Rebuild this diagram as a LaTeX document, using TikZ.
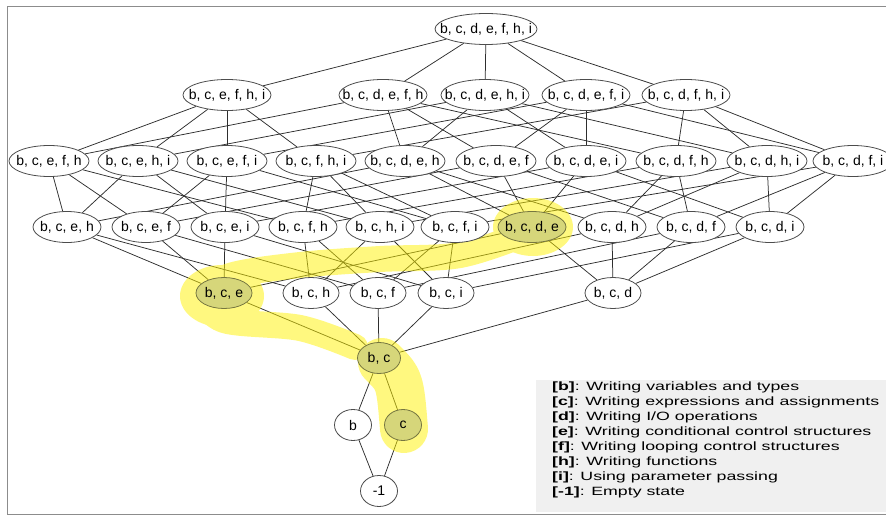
\documentclass[tikz,border=0pt]{standalone}
\usepackage{fontspec}
\setmainfont{Liberation Sans}
\newfontfamily\keyfont[FakeStretch=1.48]{Liberation Sans}
\usetikzlibrary{shapes.geometric}
\pgfdeclarelayer{background}
\pgfdeclarelayer{marker}
\pgfsetlayers{background,marker,main}
\definecolor{marked}{RGB}{214,214,122}
\definecolor{markedline}{RGB}{118,118,64}
\definecolor{keygray}{RGB}{240,240,240}
\definecolor{framegray}{RGB}{140,140,140}

\begin{document}
\begin{tikzpicture}[x=1pt, y=-1pt,
    state/.style ={ellipse, draw=black!70, line width=0.8pt, fill=white,
      inner xsep=-30pt, inner ysep=0pt, minimum height=31pt,
      minimum width=#1, font=\fontsize{14}{16}\selectfont},
    state/.default=37pt,
    picked/.style ={fill=marked, draw=markedline},
    link/.style ={black!82, line width=0.75pt},
    band/.style ={yellow, line width=26pt, line cap=round, line join=round},
    key/.style ={anchor=north west, align=left, inner sep=0pt,
      font=\keyfont\fontsize{12}{14.9}\selectfont}]
   \useasboundingbox (0,0) rectangle (886,516);
   \draw[framegray, line width=1.6pt] (886,6.5) -- (7.5,6.5) -- (7.5,514.5) -- (886,514.5);
   % lattice of states
   \node[state=102pt] (bcdefhi) at (486,29) {b, c, d, e, f, h, i};
   \node[state=88pt] (bcefhi) at (227,95) {b, c, e, f, h, i};
   \node[state=88pt] (bcdefh) at (383,95) {b, c, d, e, f, h};
   \node[state=88pt] (bcdehi) at (485,95) {b, c, d, e, h, i};
   \node[state=88pt] (bcdefi) at (586,95) {b, c, d, e, f, i};
   \node[state=88pt] (bcdfhi) at (686,95) {b, c, d, f, h, i};
   \node[state=80pt] (bcefh) at (49,161) {b, c, e, f, h};
   \node[state=80pt] (bcehi) at (138,161) {b, c, e, h, i};
   \node[state=80pt] (bcefi) at (227,161) {b, c, e, f, i};
   \node[state=80pt] (bcfhi) at (316,161) {b, c, f, h, i};
   \node[state=80pt] (bcdeh) at (405,161) {b, c, d, e, h};
   \node[state=80pt] (bcdef) at (496,161) {b, c, d, e, f};
   \node[state=80pt] (bcdei) at (586,161) {b, c, d, e, i};
   \node[state=80pt] (bcdfh) at (676,161) {b, c, d, f, h};
   \node[state=80pt] (bcdhi) at (767,161) {b, c, d, h, i};
   \node[state=80pt] (bcdfi) at (853,161) {b, c, d, f, i};
   \node[state=68pt] (bceh) at (67,227) {b, c, e, h};
   \node[state=68pt] (bcef) at (146,227) {b, c, e, f};
   \node[state=68pt] (bcei) at (225,227) {b, c, e, i};
   \node[state=68pt] (bcfh) at (303,227) {b, c, f, h};
   \node[state=68pt] (bchi) at (380,227) {b, c, h, i};
   \node[state=68pt] (bcfi) at (455,227) {b, c, f, i};
   \node[state=68pt, picked] (bcde) at (532,227) {b, c, d, e};
   \node[state=68pt] (bcdh) at (612,227) {b, c, d, h};
   \node[state=68pt] (bcdf) at (691,227) {b, c, d, f};
   \node[state=68pt] (bcdi) at (770,227) {b, c, d, i};
   \node[state=56pt, picked] (bce) at (224,293) {b, c, e};
   \node[state=56pt] (bch) at (311,293) {b, c, h};
   \node[state=56pt] (bcf) at (378,293) {b, c, f};
   \node[state=56pt] (bci) at (446,293) {b, c, i};
   \node[state=56pt] (bcd) at (613,293) {b, c, d};
   \node[state=43pt, picked] (bc) at (379,358) {b, c};
   \node[state] (b) at (353,425) {b};
   \node[state, picked] (c) at (403,425) {c};
   \node[state] (empty) at (379,491) {-1};
   % highlighted path
   \begin{pgfonlayer}{marker}
   \begin{scope}[transparency group, opacity=0.5]
   \draw[band] plot[smooth, tension=0.55] coordinates {(530,232) (460,255)
      (380,259) (300,265) (230,276) (205,296) (224,320) (300,328) (355,347)};
   \fill[yellow] (533,227) ellipse [x radius=40pt, y radius=29pt];
   \fill[yellow] (222,296) ellipse [x radius=42pt, y radius=31pt];
   \draw[band, line width=48pt] (382,362) .. controls (400,380) .. (404,429);
   \end{scope}
   \end{pgfonlayer}
   % covering relations
   \begin{pgfonlayer}{background}
   \draw[link] (bcdefhi) to (bcefhi);
   \draw[link] (bcdefhi) to (bcdefh);
   \draw[link] (bcdefhi) to (bcdehi);
   \draw[link] (bcdefhi) to (bcdefi);
   \draw[link] (bcdefhi) to (bcdfhi);
   \draw[link] (bcefhi) to (bcefh);
   \draw[link] (bcefhi) to (bcehi);
   \draw[link] (bcefhi) to (bcefi);
   \draw[link] (bcefhi) to (bcfhi);
   \draw[link] (bcdefh) to (bcefh);
   \draw[link] (bcdefh) to (bcdfh);
   \draw[link] (bcdefh) to (bcdeh);
   \draw[link] (bcdefh) to (bcdef);
   \draw[link] (bcdehi) to (bcehi);
   \draw[link] (bcdehi) to (bcdhi);
   \draw[link] (bcdehi) to (bcdei);
   \draw[link] (bcdehi) to (bcdeh);
   \draw[link] (bcdefi) to (bcefi);
   \draw[link] (bcdefi) to (bcdfi);
   \draw[link] (bcdefi) to (bcdei);
   \draw[link] (bcdefi) to (bcdef);
   \draw[link] (bcdfhi) to (bcfhi);
   \draw[link] (bcdfhi) to (bcdhi);
   \draw[link] (bcdfhi) to (bcdfi);
   \draw[link] (bcdfhi) to (bcdfh);
   \draw[link] (bcefh) to (bceh);
   \draw[link] (bcefh) to (bcef);
   \draw[link] (bcefh) to (bcfh);
   \draw[link] (bcehi) to (bceh);
   \draw[link] (bcehi) to (bcei);
   \draw[link] (bcehi) to (bchi);
   \draw[link] (bcefi) to (bcef);
   \draw[link] (bcefi) to (bcei);
   \draw[link] (bcefi) to (bcfi);
   \draw[link] (bcfhi) to (bcfh);
   \draw[link] (bcfhi) to (bchi);
   \draw[link] (bcfhi) to (bcfi);
   \draw[link] (bcdeh) to (bcde);
   \draw[link] (bcdeh) to (bcdh);
   \draw[link] (bcdeh) to (bceh);
   \draw[link] (bcdef) to (bcde);
   \draw[link] (bcdef) to (bcdf);
   \draw[link] (bcdef) to (bcef);
   \draw[link] (bcdei) to (bcde);
   \draw[link] (bcdei) to (bcdi);
   \draw[link] (bcdei) to (bcei);
   \draw[link] (bcdfh) to (bcdf);
   \draw[link] (bcdfh) to (bcdh);
   \draw[link] (bcdfh) to (bcfh);
   \draw[link] (bcdhi) to (bcdh);
   \draw[link] (bcdhi) to (bcdi);
   \draw[link] (bcdhi) to (bchi);
   \draw[link] (bcdfi) to (bcdf);
   \draw[link] (bcdfi) to (bcdi);
   \draw[link] (bcdfi) to (bcfi);
   \draw[link] (bceh) to (bce);
   \draw[link] (bceh) to (bch);
   \draw[link] (bcef) to (bce);
   \draw[link] (bcef) to (bcf);
   \draw[link] (bcei) to (bce);
   \draw[link] (bcei) to (bci);
   \draw[link] (bcfh) to (bcf);
   \draw[link] (bcfh) to (bch);
   \draw[link] (bchi) to (bch);
   \draw[link] (bchi) to (bci);
   \draw[link] (bcfi) to (bcf);
   \draw[link] (bcfi) to (bci);
   \draw[link] (bcde) to (bcd);
   \draw[link] (bcde) to (bce);
   \draw[link] (bcdh) to (bcd);
   \draw[link] (bcdh) to (bch);
   \draw[link] (bcdf) to (bcd);
   \draw[link] (bcdf) to (bcf);
   \draw[link] (bcdi) to (bcd);
   \draw[link] (bcdi) to (bci);
   \draw[link] (bce) to (bc);
   \draw[link] (bch) to (bc);
   \draw[link] (bcf) to (bc);
   \draw[link] (bci) to (bc);
   \draw[link] (bcd) to (bc);
   \draw[link] (bc) to (b);
   \draw[link] (bc) to (c);
   \draw[link] (b) to (empty);
   \draw[link] (c) to (empty);
   \end{pgfonlayer}
   % legend
   \fill[keygray] (536,380) rectangle (886,512);
   \node[key] (legend) at (552,382) {\textbf{[b]}: Writing variables and types\\
      \textbf{[c]}: Writing expressions and assignments\\
      \textbf{[d]}: Writing I/O operations\\
      \textbf{[e]}: Writing conditional control structures\\
      \textbf{[f]}: Writing looping control structures\\
      \textbf{[h]}: Writing functions\\
      \textbf{[i]}: Using parameter passing\\
      \textbf{[-1]}: Empty state};
\end{tikzpicture}
\end{document}
